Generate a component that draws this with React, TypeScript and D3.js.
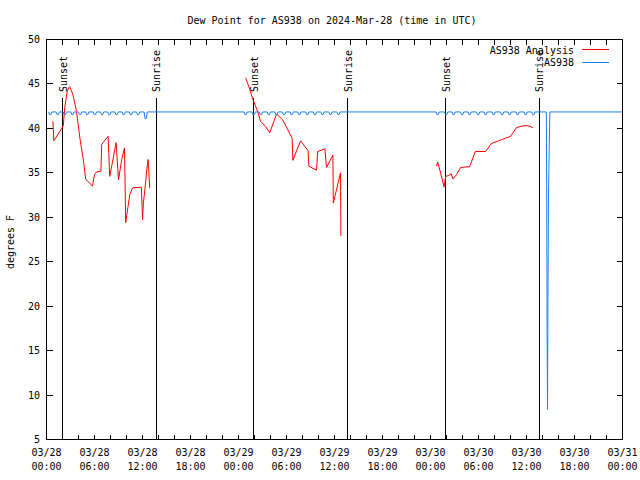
import React from "react";
import * as d3 from "d3";

const title = "Dew Point for AS938 on 2024-Mar-28 (time in UTC)";
const yLabel = "degrees F";
const legendAnalysis = "AS938 Analysis";
const legendObs = "AS938";

const xTickHours = [0, 6, 12, 18, 24, 30, 36, 42, 48, 54, 60, 66, 72];
const xTickDates = ["03/28", "03/28", "03/28", "03/28", "03/29", "03/29", "03/29", "03/29", "03/30", "03/30", "03/30", "03/30", "03/31"];
const xTickTimes = ["00:00", "06:00", "12:00", "18:00", "00:00", "06:00", "12:00", "18:00", "00:00", "06:00", "12:00", "18:00", "00:00"];
const yTicks = [5, 10, 15, 20, 25, 30, 35, 40, 45, 50];

const sunsetHours = [2.04, 25.92, 49.9];
const sunriseHours = [13.71, 37.66, 61.59];

// AS938 Analysis (red), [hour since 03/28 00:00 UTC, dew point F]
const analysisDay1: [number, number][] = [
  [0.8, 40.8], [0.92, 38.6], [1.9, 40.0], [2.1, 40.3], [2.3, 42.5], [2.6, 44.2], [2.8, 44.6], [2.9, 44.7],
  [3.3, 43.8], [3.75, 41.9], [4.2, 38.75], [4.6, 36.5], [4.9, 34.3], [5.75, 33.5], [6.0, 34.8], [6.25, 35.1],
  [6.8, 35.2], [6.9, 38.2], [7.7, 39.1], [7.9, 34.6], [8.1, 35.5], [8.7, 38.4], [9.0, 34.2], [9.4, 36.5],
  [9.75, 37.8], [9.9, 29.4], [10.2, 31.25], [10.4, 32.5], [10.75, 33.3], [11.85, 33.4], [11.95, 31.1], [12.0, 29.7],
  [12.1, 31.5], [12.4, 34.0], [12.55, 35.5], [12.7, 36.5], [12.75, 35.8], [12.9, 33.3],
];
const analysisDay2: [number, number][] = [
  [24.9, 45.7], [25.4, 44.4], [25.8, 43.25], [26.4, 41.9], [26.75, 40.8], [27.4, 40.2], [27.9, 39.5], [28.75, 41.6],
  [29.5, 41.0], [30.7, 38.9], [30.8, 36.4], [31.75, 38.6], [32.7, 37.5], [32.8, 35.75], [33.75, 35.3], [33.9, 37.4],
  [34.8, 37.7], [35.0, 35.6], [35.8, 37.0], [35.85, 31.6], [36.75, 35.0], [36.8, 27.9],
];
const analysisDay3: [number, number][] = [
  [48.75, 35.75], [48.9, 36.2], [49.2, 35.2], [49.7, 33.4], [49.9, 34.6], [50.3, 34.7], [50.6, 34.9], [50.8, 34.3],
  [51.25, 34.8], [51.75, 35.6], [52.9, 35.7], [53.6, 37.4], [54.9, 37.4], [55.6, 38.3], [56.5, 38.6], [57.4, 38.9],
  [58.0, 39.1], [58.75, 40.1], [59.7, 40.3], [60.2, 40.3], [60.8, 40.1],
];

// AS938 observations (blue): steady level with short hourly dips, plus a sensor spike
const as938Level = 41.85;
const as938Start = 0.28;
const as938End = 72;
const as938Dips: [number, number][] = [
  [0.45, 41.55], [1.4, 41.55], [2.3, 41.55], [3.25, 41.55], [4.2, 41.55], [5.1, 41.55], [6.05, 41.55],
  [6.95, 41.55], [7.85, 41.55], [8.75, 41.55], [9.65, 41.55], [10.55, 41.55], [11.45, 41.55], [12.4, 41.1],
  [24.9, 41.55], [25.9, 41.55], [26.8, 41.55], [27.8, 41.55], [28.75, 41.55], [29.7, 41.55], [30.65, 41.55],
  [31.6, 41.55], [32.6, 41.55], [33.55, 41.55], [34.5, 41.55], [35.5, 41.55], [36.5, 41.55],
  [48.9, 41.55], [49.95, 41.55], [50.9, 41.55], [51.95, 41.55], [52.9, 41.55], [53.95, 41.55], [54.9, 41.55],
  [55.9, 41.55], [56.95, 41.55], [57.9, 41.55], [58.9, 41.55], [59.9, 41.55], [60.85, 41.55],
];
const as938Spike: [number, number][] = [
  [62.48, 41.85], [62.52, 33.6], [62.58, 16.8], [62.63, 8.4], [62.66, 16.8], [62.76, 33.6], [62.92, 41.85],
];

const W = 640;
const H = 480;
const font = "'DejaVu Sans Mono', monospace";

export default function App() {
  const x = d3.scaleLinear().domain([0, 72]).range([46.5, 622.5]);
  const y = d3.scaleLinear().domain([5, 50]).range([439.5, 39.5]);
  const line = d3
    .line<[number, number]>()
    .x((d) => x(d[0]))
    .y((d) => y(d[1]));

  const obs: [number, number][] = [[as938Start, as938Level]];
  as938Dips.forEach(([h, v]) => {
    obs.push([h - 0.2, as938Level], [h - 0.08, v], [h + 0.08, v], [h + 0.2, as938Level]);
  });
  as938Spike.forEach((p) => obs.push(p));
  obs.push([as938End, as938Level]);
  obs.sort((a, b) => a[0] - b[0]);

  const minorTicks = d3.range(0, 73, 2);
  const x0 = x(0);
  const x1 = x(72);
  const yTop = y(50);
  const yBot = y(5);

  return (
    <svg
      width={W}
      height={H}
      style={{ position: "absolute", left: 0, top: 0, background: "#fff" }}
      fontFamily={font}
      fontSize={10}
    >
      <rect x={0} y={0} width={W} height={H} fill="#fff" />
      <text x={332} y={24} textAnchor="middle" fill="#000">
        {title}
      </text>

      {/* ticks */}
      <g stroke="#000" strokeWidth={1} shapeRendering="crispEdges">
        {minorTicks.map((h) => (
          <g key={"xt" + h}>
            <line x1={x(h)} x2={x(h)} y1={yBot} y2={yBot - 5} />
            <line x1={x(h)} x2={x(h)} y1={yTop} y2={yTop + 5} />
          </g>
        ))}
        {yTicks.map((v) => (
          <g key={"yt" + v}>
            <line x1={x0} x2={x0 + 6} y1={y(v)} y2={y(v)} />
            <line x1={x1} x2={x1 - 6} y1={y(v)} y2={y(v)} />
          </g>
        ))}
      </g>

      {/* y labels */}
      {yTicks.map((v) => (
        <text key={"yl" + v} x={40} y={y(v)} dy="0.35em" textAnchor="end" fill="#000">
          {v}
        </text>
      ))}
      {/* x labels */}
      {xTickHours.map((h, i) => (
        <g key={"xl" + h}>
          <text x={x(h)} y={456} textAnchor="middle" fill="#000">
            {xTickDates[i]}
          </text>
          <text x={x(h)} y={470} textAnchor="middle" fill="#000">
            {xTickTimes[i]}
          </text>
        </g>
      ))}
      <text transform={`translate(14,242) rotate(-90)`} textAnchor="middle" fill="#000">
        {yLabel}
      </text>

      {/* sunset / sunrise */}
      {sunsetHours.map((h) => (
        <g key={"ss" + h}>
          <line x1={x(h)} x2={x(h)} y1={yBot} y2={98} stroke="#000" shapeRendering="crispEdges" />
          <text transform={`translate(${x(h) + 4},92) rotate(-90)`} fill="#000">
            Sunset
          </text>
        </g>
      ))}
      {sunriseHours.map((h) => (
        <g key={"sr" + h}>
          <line x1={x(h)} x2={x(h)} y1={yBot} y2={98} stroke="#000" shapeRendering="crispEdges" />
          <text transform={`translate(${x(h) + 4},92) rotate(-90)`} fill="#000">
            Sunrise
          </text>
        </g>
      ))}

      {/* data */}
      {[analysisDay1, analysisDay2, analysisDay3].map((seg, i) => (
        <path key={"an" + i} d={line(seg) || ""} fill="none" stroke="#ff0000" strokeWidth={1} />
      ))}
      <path d={line(obs) || ""} fill="none" stroke="#1a80f0" strokeWidth={1} />

      {/* legend */}
      <text x={574} y={53.5} textAnchor="end" fill="#000">
        {legendAnalysis}
      </text>
      <line x1={582} x2={609} y1={49.5} y2={49.5} stroke="#ff0000" shapeRendering="crispEdges" />
      <text x={574} y={66} textAnchor="end" fill="#000">
        {legendObs}
      </text>
      <line x1={582} x2={609} y1={62.5} y2={62.5} stroke="#1a80f0" shapeRendering="crispEdges" />

      {/* border */}
      <rect
        x={x0}
        y={yTop}
        width={x1 - x0}
        height={yBot - yTop}
        fill="none"
        stroke="#000"
        shapeRendering="crispEdges"
      />
    </svg>
  );
}
